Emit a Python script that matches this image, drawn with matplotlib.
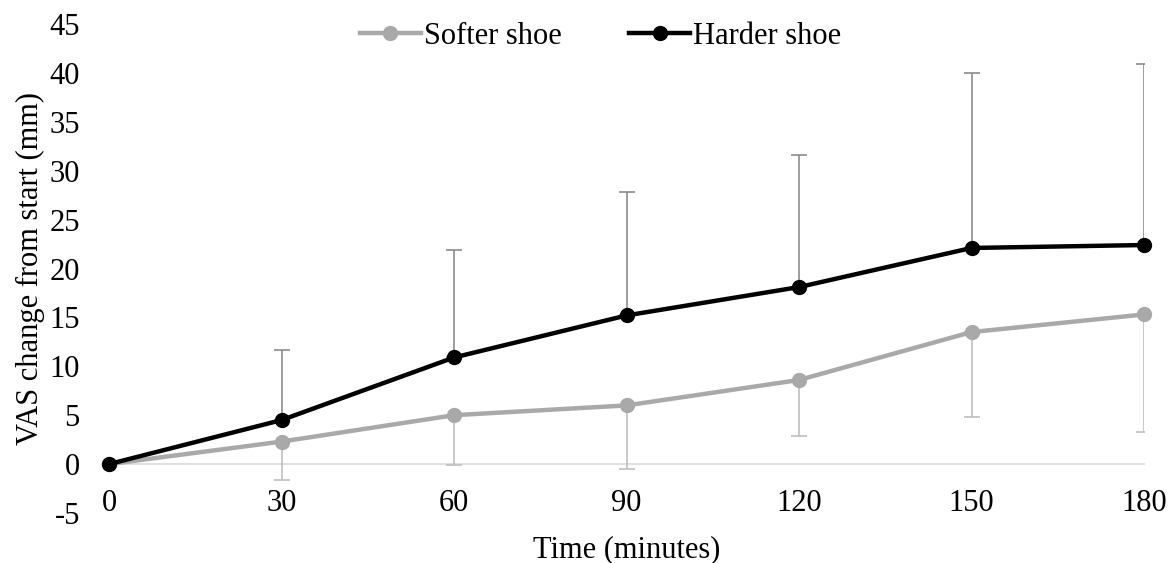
import matplotlib
matplotlib.use("Agg")
import matplotlib.pyplot as plt

# data
time = [0, 30, 60, 90, 120, 150, 180]
softer = [0, 2.3, 5.0, 6.0, 8.6, 13.5, 15.3]
softer_low = [0, -1.6, -0.1, -0.5, 2.9, 4.8, 3.3]
harder = [0, 4.5, 10.9, 15.2, 18.1, 22.1, 22.4]
harder_high = [0, 11.7, 21.9, 27.8, 31.6, 40.0, 40.9]

plt.rcParams['font.family'] = ['Liberation Serif', 'DejaVu Serif']
plt.rcParams['axes.unicode_minus'] = False

fig = plt.figure(figsize=(11.74, 5.63), dpi=100)
ax = fig.add_axes([109/1174, 1-513/563, (1144-109)/1174, (513-24)/563])

# error bars (one-sided)
err_s = [[s - l for s, l in zip(softer, softer_low)], [0]*len(softer)]
err_h = [[0]*len(harder), [h - s for h, s in zip(harder_high, harder)]]
ax.errorbar(time[1:], softer[1:], yerr=[e[1:] for e in err_s], fmt='none',
            ecolor='#bfbfbf', elinewidth=1.2, capsize=6, capthick=1.2, zorder=2)
ax.errorbar(time[1:], harder[1:], yerr=[e[1:] for e in err_h], fmt='none',
            ecolor='#8c8c8c', elinewidth=1.2, capsize=6, capthick=1.2, zorder=2)

ax.plot(time, softer, '-o', color='#a9a9a9', lw=3.2, ms=10, label='Softer shoe',
        clip_on=False, zorder=3)
ax.plot(time, harder, '-o', color='black', lw=3.2, ms=10, label='Harder shoe',
        clip_on=False, zorder=4)

ax.set_xlim(0, 180)
ax.set_ylim(-5, 45)
ax.set_xticks(time)
ax.set_yticks(range(-5, 50, 5))
for s in ['top', 'right', 'left']:
    ax.spines[s].set_visible(False)
ax.spines['bottom'].set_position(('data', 0))
ax.spines['bottom'].set_color('#d9d9d9')
ax.spines['bottom'].set_linewidth(1.2)
ax.spines['bottom'].set_zorder(1)
ax.tick_params(axis='both', length=0, labelsize=22)
ax.tick_params(axis='y', pad=21)
ax.tick_params(axis='x', pad=18)

ax.set_xlabel('Time (minutes)', fontsize=22)
ax.xaxis.set_label_coords(0.5, -0.045)
ax.set_ylabel('VAS change from start (mm)', fontsize=22)
ax.yaxis.set_label_coords(-0.062, 0.5)

ax.legend(loc='upper center', bbox_to_anchor=(0.475, 1.06), ncol=2, frameon=False,
          fontsize=22, handlelength=2.0, handletextpad=0.1, columnspacing=2.2)

fig.savefig('out.png', dpi=100)
